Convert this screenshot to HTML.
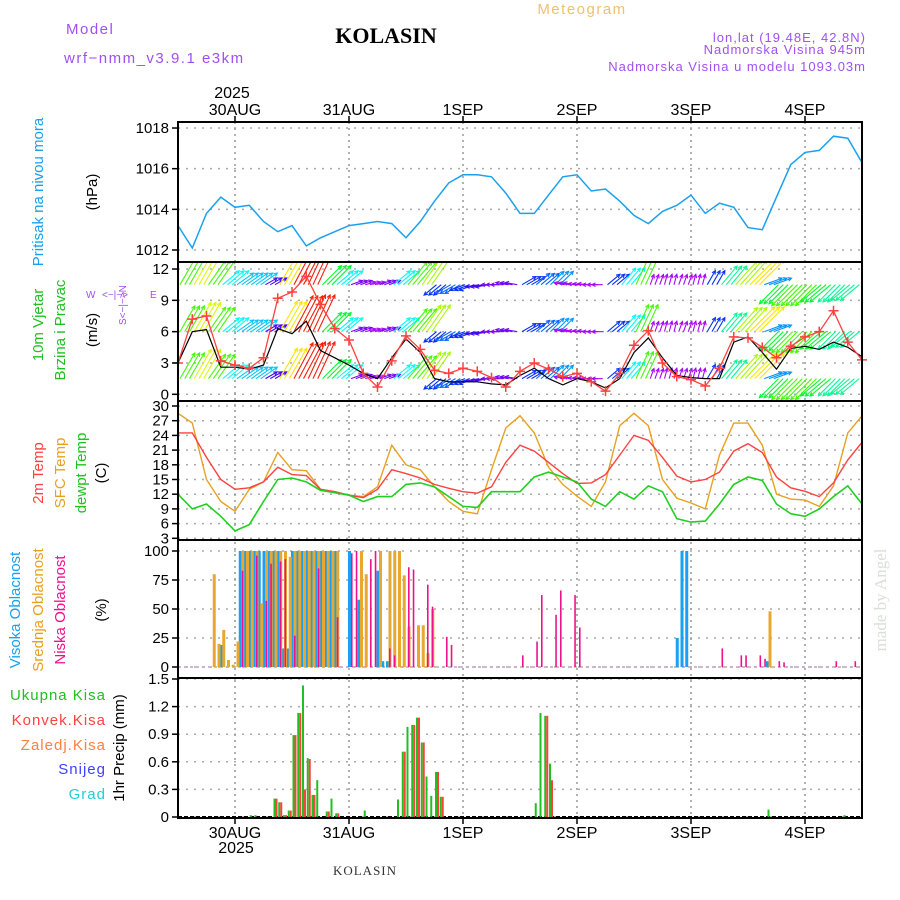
<!DOCTYPE html>
<html><head><meta charset="utf-8">
<style>
html,body{margin:0;padding:0;background:#fff;}
svg{display:block;font-family:"Liberation Sans",sans-serif;}
.hd{font-size:15px;letter-spacing:1.5px;}
.tk{font-size:15px;fill:#000;text-anchor:end;}
.dl{font-size:16px;fill:#000;text-anchor:middle;}
.lbl{font-size:15px;text-anchor:middle;}
</style></head>
<body>
<svg id="chart" width="900" height="900" viewBox="0 0 900 900" xmlns="http://www.w3.org/2000/svg">
  <defs><clipPath id="windClip"><rect x="178" y="262" width="684" height="139"/></clipPath></defs>
  <text x="66" y="34" class="hd" fill="#a050f0">Model</text>
  <text x="64" y="63" class="hd" fill="#a050f0">wrf−nmm_v3.9.1 e3km</text>
  <text x="386" y="43" text-anchor="middle" font-family="Liberation Serif, serif" font-weight="bold" font-size="22" fill="#000">KOLASIN</text>
  <text x="582" y="14" text-anchor="middle" class="hd" fill="#f0c070" font-size="16">Meteogram</text>
  <text x="866" y="42" text-anchor="end" font-size="13" letter-spacing="1" fill="#a050f0">lon,lat (19.48E, 42.8N)</text>
  <text x="866" y="54" text-anchor="end" font-size="13" letter-spacing="1" fill="#a050f0">Nadmorska Visina 945m</text>
  <text x="866" y="71" text-anchor="end" font-size="13" letter-spacing="1" fill="#a050f0">Nadmorska Visina u modelu 1093.03m</text>

  <g id="grid"></g>
  <g id="marks"></g>
  <g id="frames"></g>
  <g id="axes"></g>

  <text transform="translate(43,192) rotate(-90)" class="lbl" fill="#1aa0f0">Pritisak na nivou mora</text>
  <text transform="translate(97,192) rotate(-90)" class="lbl" fill="#000">(hPa)</text>
  <text transform="translate(43,325) rotate(-90)" class="lbl" fill="#20c020">10m Vjetar</text>
  <text transform="translate(65,330) rotate(-90)" class="lbl" fill="#20c020">Brzina i Pravac</text>
  <text transform="translate(97,330) rotate(-90)" class="lbl" fill="#000">(m/s)</text>
  <g fill="#a050f0" font-size="10">
    <text x="86" y="298">W</text><text x="150" y="298">E</text>
    <text transform="translate(126,325) rotate(-90)">S&lt;−|−&gt;N</text>
    <text x="102" y="298">&lt;−|−&gt;</text>
  </g>
  <text transform="translate(43,473) rotate(-90)" class="lbl" fill="#ff4040">2m Temp</text>
  <text transform="translate(65,473) rotate(-90)" class="lbl" fill="#e8a020">SFC Temp</text>
  <text transform="translate(86,473) rotate(-90)" class="lbl" fill="#20c020">dewpt Temp</text>
  <text transform="translate(106,473) rotate(-90)" class="lbl" fill="#000">(C)</text>
  <text transform="translate(20,610) rotate(-90)" class="lbl" fill="#1aa0f0">Visoka Oblacnost</text>
  <text transform="translate(43,610) rotate(-90)" class="lbl" fill="#e8a020">Srednja Oblacnost</text>
  <text transform="translate(65,610) rotate(-90)" class="lbl" fill="#f0108c">Niska Oblacnost</text>
  <text transform="translate(106,610) rotate(-90)" class="lbl" fill="#000">(%)</text>
  <g font-size="15" text-anchor="end" letter-spacing="1">
    <text x="106" y="700" fill="#20c020">Ukupna Kisa</text>
    <text x="106" y="725" fill="#ff4040">Konvek.Kisa</text>
    <text x="106" y="750" fill="#ff8040">Zaledj.Kisa</text>
    <text x="106" y="774" fill="#4040ff">Snijeg</text>
    <text x="106" y="799" fill="#20d0d0">Grad</text>
  </g>
  <text transform="translate(124,748) rotate(-90)" class="lbl" fill="#000">1hr Precip (mm)</text>
  <text transform="translate(886,600) rotate(-90)" text-anchor="middle" font-family="Liberation Serif, serif" font-size="17" fill="#d8e0d8">made by Angel</text>
  <text x="232" y="98" class="dl">2025</text>
  <text x="236" y="853" class="dl">2025</text>
  <text x="365" y="875" text-anchor="middle" font-family="Liberation Serif, serif" font-size="13" fill="#333" letter-spacing="1">KOLASIN</text>
</svg>
<script>
// ---- data (hours from 29 Aug 12:00, step 3h) ----
const hours3 = [0,3,6,9,12,15,18,21,24,27,30,33,36,39,42,45,48,51,54,57,60,63,66,69,72,75,78,81,84,87,90,93,96,99,102,105,108,111,114,117,120,123,126,129,132,135,138,141,144];
const pressure = [1013.2,1012.1,1013.8,1014.6,1014.1,1014.2,1013.4,1012.9,1013.2,1012.2,1012.6,1012.9,1013.2,1013.3,1013.4,1013.3,1012.6,1013.4,1014.4,1015.3,1015.7,1015.7,1015.6,1014.8,1013.8,1013.8,1014.7,1015.6,1015.7,1014.9,1015.0,1014.4,1013.7,1013.3,1013.9,1014.2,1014.7,1013.8,1014.3,1014.1,1013.1,1013.0,1014.6,1016.2,1016.8,1016.9,1017.6,1017.5,1016.3];
const windGust = [3,7.2,7.5,3.2,2.8,2.5,3.5,9.2,9.8,11.3,8.6,6.3,5.2,2.0,0.7,3.2,5.6,4.3,2.3,2.0,2.5,2.2,1.6,0.7,2.2,3.0,2.4,1.7,2.0,1.2,0.3,2.0,4.7,6.1,3.0,1.7,1.4,0.8,2.5,5.5,5.4,4.5,3.5,4.6,5.5,6.0,8.0,5.0,3.3];
const windMean = [3,6,6.2,2.6,2.6,2.4,2.8,6.3,5.8,7.0,4.2,3.5,2.8,2.0,1.5,3.5,5.3,4.0,1.5,1.2,1.2,1.2,1.0,0.9,1.8,2.5,1.5,0.9,1.5,1.2,0.6,1.5,4.0,5.4,3.5,1.8,1.6,1.5,1.5,5.0,5.5,4.0,2.4,4.4,4.6,4.3,5.0,4.5,3.6];
const windDir = [60,60,55,40,35,35,30,60,62,65,45,40,20,15,20,40,50,55,220,210,200,190,180,170,30,40,45,170,175,180,40,50,65,70,75,70,75,60,50,48,45,20,225,225,225,220,225,220,225];
const windLen = [22,25,22,16,15,15,10,26,30,30,20,16,9,8,9,16,22,24,12,13,12,10,9,9,12,13,14,8,8,8,12,16,22,8,8,8,8,12,18,24,26,14,20,22,22,20,18,18,16];
const temp2m = [24.5,24.5,19.5,15,13,13.3,14.5,17.5,16,15.8,13,12.5,11.8,11.3,13,17,16.2,15.3,14,13.2,12.5,12.2,13.5,18.5,22,20.8,18.5,16.2,14.2,14.3,16,20,24,23,19.5,15.7,14.5,15,16.5,20.8,22.3,20.5,15.5,13.3,12.6,11.5,14.3,19,22.6];
const tempSfc = [28.5,26.5,15,10.5,8.5,13,14.5,20.5,17,16.8,13,12.5,11.8,11.5,13.5,22,18,17,13.5,10.5,8.5,8,17,25.5,28,24.5,17.5,14,11.6,9.5,14.5,26,28.5,26,15,11.2,10.2,9,20,26.5,26.5,22,12,11,10.8,9.5,13.7,24.5,28];
const tempDew = [12,9,10,7.5,4.5,5.8,10.5,15,15.3,14.5,12.8,12.3,11.8,10.5,11.5,11.5,14,14.3,13.5,11.5,9.5,9.3,12.5,12.5,12.5,15.5,16.5,15.5,14.5,11,9.5,12.5,11,13.7,12.5,7,6.3,6.5,10,14,15.5,14.8,10,8,7.5,9,11.5,13.7,10];
// cloud cover (hour, %)
const highHours = [9,13,14,15,16,17,18,19,20,21,22,23,24,25,26,27,28,29,30,31,32,33,36,38,42,43,44,105,106,107,124];
const highVals  = [19,100,100,100,100,100,100,100,100,100,16,16,100,100,100,100,100,100,100,100,100,100,100,58,83,5,5,25,100,100,5];
const midHours = [7,8,9,10,11,12,13,14,15,16,17,18,19,20,21,22,23,24,25,26,27,28,29,30,31,32,33,38,39,42,44,45,46,47,48,50,51,52,53,124];
const midVals  = [80,20,32,6,2,22,100,100,100,100,55,100,100,100,100,100,95,100,100,100,100,100,100,100,100,100,100,100,80,100,100,100,100,79,35,36,36,12,50,48];
const lowHours = [13,16,18,19,21,22,24,29,33,36,37,40,41,44,45,48,49,52,53,56,57,72,75,76,79,80,83,84,114,118,119,122,123,126,127,138,142];
const lowVals  = [83,96,57,89,91,93,27,85,43,98,100,93,100,16,10,86,84,71,52,26,19,10,22,62,45,66,62,34,16,10,10,10,7,5,4,5,5];
// precipitation (hour, mm)
const precipHours = [15,16,20,21,22,23,24,25,26,27,28,29,31,32,33,39,46,47,48,49,50,51,52,53,54,55,75,76,77,78,124,140];
const precipTotal = [0.02,0.02,0.2,0.16,0.02,0.07,0.89,1.13,1.43,0.64,0.24,0.40,0.06,0.2,0.04,0.07,0.19,0.71,0.98,1.0,1.08,0.81,0.44,0.23,0.49,0.22,0.15,1.13,1.1,0.58,0.08,0.02];
const precipConv  = [0,0,0.2,0.16,0.02,0.07,0.89,1.13,0.3,0.63,0.24,0.0,0.06,0.0,0.04,0.0,0.0,0.71,0.0,1.0,1.08,0.81,0.0,0.0,0.49,0.22,0.0,0.0,1.1,0.4,0.0,0.0];
const dayLabels = ["30AUG","31AUG","1SEP","2SEP","3SEP","4SEP"];
const dayHours = [12,36,60,84,108,132];
const pTicks = [1012,1014,1016,1018];
const wTicks = [0,3,6,9,12];
const tTicks = [3,6,9,12,15,18,21,24,27,30];
const cTicks = [0,25,50,75,100];
const rTicks = [0,0.3,0.6,0.9,1.2,1.5];

// ---- scales ----
const L=178,R=862;
const xS = h => L + h*(R-L)/144;
const yP = p => 250 - (p-1012)*20.33;
const yW = v => 394.3 - v*10.44;
const yT = t => 538.3 - (t-3)*4.9;
const yC = c => 667 - c*1.16;
const yR = p => 817 - p*92;
const panels = [[122,262],[262,401],[401,540],[540,678],[678,818]];
const NS="http://www.w3.org/2000/svg";
function mk(tag, attrs, parent){const e=document.createElementNS(NS,tag);for(const k in attrs)e.setAttribute(k,attrs[k]);parent.appendChild(e);return e;}
const grid=document.getElementById('grid'), marks=document.getElementById('marks'), frames=document.getElementById('frames'), axes=document.getElementById('axes');

function hgrid(ticks, ys, fmt, name){
  ticks.forEach(t=>{
    const y=ys(t);
    const g=mk('line',{x1:L,x2:R,y1:y,y2:y,stroke:'#aaa','stroke-dasharray':'2,6','stroke-width':1.5},grid);
    
    
    const tk=mk('line',{x1:L-6,x2:L,y1:y,y2:y,stroke:'#000','stroke-width':1.5},axes);
    
    
    const tx=mk('text',{x:L-9,y:y+5,class:'tk'},axes);
    tx.textContent=fmt(t);
    
    
  });
}
hgrid(pTicks,yP,t=>t,'pressure');
hgrid(wTicks,yW,t=>t,'wind');
hgrid(tTicks,yT,t=>t,'temp');
hgrid(cTicks,yC,t=>t,'cloud');
hgrid(rTicks,yR,t=>t===0?'0':t.toFixed(1),'precip');
dayHours.forEach((h,i)=>{
  const x=xS(h);
  const v=mk('line',{x1:x,x2:x,y1:122,y2:818,stroke:'#999','stroke-dasharray':'2,4','stroke-width':1.5},grid);
  
  
  [[116,122],[818,824]].forEach(([a,b])=>{
    const t=mk('line',{x1:x,x2:x,y1:a,y2:b,stroke:'#000','stroke-width':1.5},axes);
    
    
  });
  const a=mk('text',{x:x,y:115,class:'dl'},axes); a.textContent=dayLabels[i];
  
  
  const b=mk('text',{x:x,y:838,class:'dl'},axes); b.textContent=dayLabels[i];
  
  
});

function poly(vals, ys, color, w, name){
  const pts=hours3.map((h,i)=>xS(h).toFixed(1)+','+ys(vals[i]).toFixed(1)).join(' ');
  const p=mk('polyline',{points:pts,fill:'none',stroke:color,'stroke-width':w},marks);
  
  
}
poly(pressure,yP,'#1aa0f0',1.5,'pressure-line');

// wind arrows (three rows)
const windG=mk('g',{'clip-path':'url(#windClip)'},marks);


const rowBases=[10.5,6,1.5];
rowBases.forEach((base,r)=>{
  for(let h=0;h<144;h++){
    const i=Math.floor(h/3);
    const ang=windDir[i]*Math.PI/180, len=windLen[i]*1.35;
    const x0=xS(h)+2, y0=yW(base);
    const x1=x0+len*Math.cos(ang), y1=y0-len*Math.sin(ang);
    const hue=Math.max(0,Math.min(280,280-(windLen[i]-8)*12.5));
    const col='hsl('+hue+',95%,50%)';
    const g=mk('g',{stroke:col,'stroke-width':1.1,fill:'none'},windG);
    
    
    mk('line',{x1:x0,y1:y0,x2:x1,y2:y1},g);
    const hl=4, a1=ang+Math.PI*0.85, a2=ang-Math.PI*0.85;
    mk('polyline',{points:`${x1+hl*Math.cos(a1)},${y1-hl*Math.sin(a1)} ${x1},${y1} ${x1+hl*Math.cos(a2)},${y1-hl*Math.sin(a2)}`},g);
  }
});
poly(windMean,yW,'#000',1.2,'wind-mean-line');
poly(windGust,yW,'#ff4040',1.3,'wind-gust-line');
hours3.forEach((h,i)=>{
  const x=xS(h), y=yW(windGust[i]);
  const m=mk('path',{d:`M${x-5},${y}H${x+5}M${x},${y-5}V${y+5}`,stroke:'#ff4040','stroke-width':1.5},marks);
  
  
});

poly(tempSfc,yT,'#e8a020',1.4,'temp-sfc-line');
poly(temp2m,yT,'#ff4040',1.4,'temp-2m-line');
poly(tempDew,yT,'#20d020',1.6,'temp-dewpt-line');

const zl=mk('line',{x1:L,x2:R,y1:667,y2:667,stroke:'#c0a0c0','stroke-width':1.5,'stroke-dasharray':'3,3'},marks);


function bars(hs, vals, ys, dx, w, color, name){
  hs.forEach((h,i)=>{
    const y=ys(vals[i]), y0=ys(0);
    const b=mk('rect',{x:xS(h)+dx,y:y,width:w,height:Math.max(0,y0-y),fill:color},marks);
    
    
  });
}
bars(highHours,highVals,yC,-1,3,'#1aa0f0','cloud-high-bar');
bars(midHours,midVals,yC,1.5,3,'#e8a830','cloud-mid-bar');
bars(lowHours,lowVals,yC,2,1.6,'#f0108c','cloud-low-bar');

const pz=mk('line',{x1:L,x2:R,y1:817,y2:817,stroke:'#000','stroke-width':2,'stroke-dasharray':'4,2'},marks);


bars(precipHours,precipTotal,yR,0.5,2,'#20c020','precip-total-bar');
bars(precipHours,precipConv,yR,2.5,2,'#ff4040','precip-convective-bar');

panels.forEach(([a,b])=>{
  const f=mk('rect',{x:L,y:a,width:R-L,height:b-a,fill:'none',stroke:'#000','stroke-width':2},frames);
  
  
});
</script>
</body></html>
